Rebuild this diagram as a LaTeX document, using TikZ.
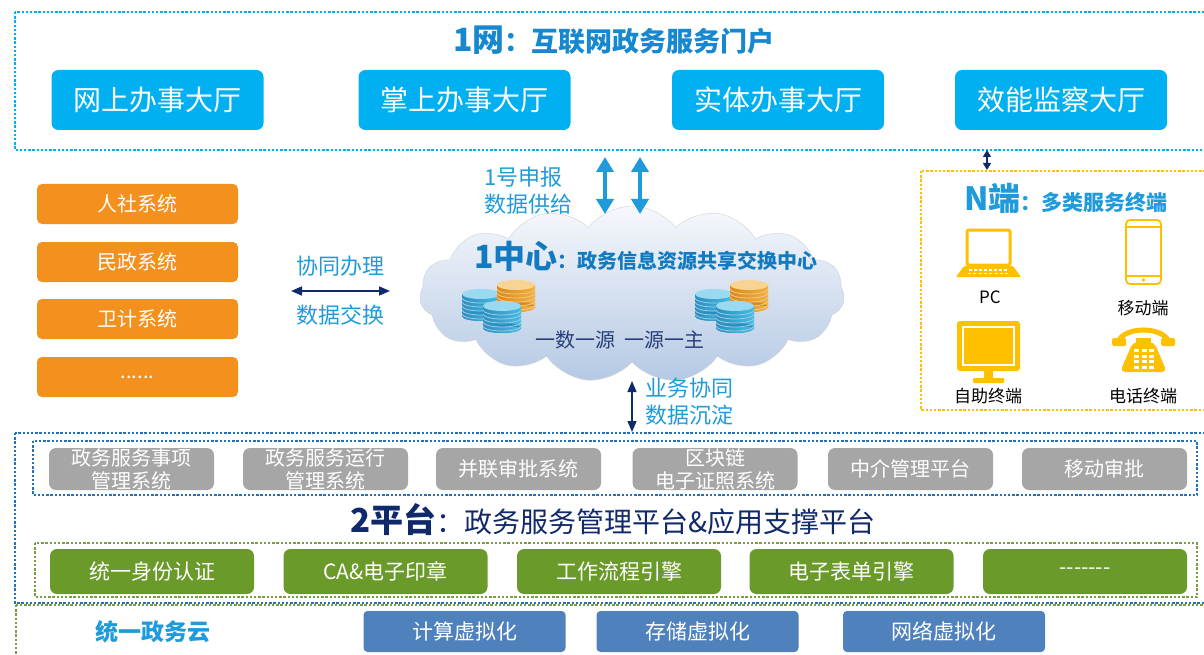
\documentclass[tikz,border=0pt]{standalone}
\usepackage{fontspec}
\setmainfont{Noto Sans CJK SC}
\usepackage{xcolor}
\usetikzlibrary{shapes.symbols, arrows.meta, positioning, calc}

\definecolor{netblue}{HTML}{00B0F0}
\definecolor{titleblue}{HTML}{1588CF}
\definecolor{lblblue}{HTML}{1F9BDB}
\definecolor{navy}{HTML}{10296A}
\definecolor{sysorange}{HTML}{F4901E}
\definecolor{appgray}{HTML}{A6A6A6}
\definecolor{supgreen}{HTML}{6A9A2A}
\definecolor{vmblue}{HTML}{4F81BD}
\definecolor{termyellow}{HTML}{FFC000}
\definecolor{platblue}{HTML}{2472B3}
\definecolor{dotgreen}{HTML}{7A9C3E}
\definecolor{cloudtop}{HTML}{F6F8FC}
\definecolor{cloudbot}{HTML}{B5C9E4}
\definecolor{dbblue}{HTML}{45BCE3}
\definecolor{dbdark}{HTML}{2C8FC0}
\definecolor{dborange}{HTML}{F3B03A}
\definecolor{dborangedk}{HTML}{D98A1C}

% one database cylinder: centre x, top y, body colour, shade colour
\newcommand{\dbcyl}[4]{%
  \shade[left color=#4, right color=#3] (#1-19,#2) rectangle (#1+19,#2+22);
  \fill[#4] (#1,#2+22) ellipse [x radius=19, y radius=5];
  \shade[left color=#4, right color=#3] (#1-19,#2+22) arc [start angle=180, end angle=0, x radius=19, y radius=5]
    -- (#1+19,#2+21) -- (#1-19,#2+21) -- cycle;
  \foreach \s in {4,8,12,16,20}
    \draw[white!55!#4, line width=0.8pt] (#1-19,#2+\s) arc [start angle=180, end angle=0, x radius=19, y radius=5];
  \fill[white!45!#3] (#1,#2) ellipse [x radius=19, y radius=5];
}

\begin{document}
\begin{tikzpicture}[
  x=1pt, y=-1pt,
  box/.style={rounded corners=7pt, text=white, inner sep=0pt},
  hall/.style={box, fill=netblue, minimum width=212pt, minimum height=60pt, font=\fontsize{28}{30}\selectfont},
  sysbox/.style={box, fill=sysorange, rounded corners=5pt, minimum width=201pt, minimum height=40pt, font=\fontsize{20}{22}\selectfont},
  app/.style={box, fill=appgray, minimum width=165pt, minimum height=42pt, align=center, font=\fontsize{20}{23}\selectfont},
  sup/.style={box, fill=supgreen, minimum width=204pt, minimum height=45pt, font=\fontsize{21}{23}\selectfont},
  vm/.style={box, fill=vmblue, rounded corners=4pt, minimum width=202pt, minimum height=41pt, font=\fontsize{21}{23}\selectfont},
  frame/.style={line width=2.4pt, dash pattern=on 2.4pt off 1.8pt},
  lbl/.style={text=lblblue, font=\fontsize{22}{27}\selectfont, inner sep=0pt},
  term/.style={font=\fontsize{17}{19}\selectfont, inner sep=0pt},
  navyarrow/.style={navy, line width=1.6pt, {Triangle[width=9pt,length=11pt]}-{Triangle[width=9pt,length=11pt]}},
  fatarrow/.style={lblblue, line width=4.5pt, {Triangle[width=17pt,length=15pt]}-{Triangle[width=17pt,length=15pt]}},
]
\useasboundingbox[fill=white] (0,0) rectangle (1204,655);

% 1 net: portal halls
\draw[frame, netblue] (15,12) rectangle (1215,150);
\node[text=titleblue, inner sep=0pt] (nettitle) at (614,40)
  {{\fontsize{32}{32}\selectfont\bfseries 1网}{\fontsize{27}{27}\selectfont\bfseries ：互联网政务服务门户}};
\node[hall] (hall1) at (157.5,100) {网上办事大厅};
\node[hall] (hall2) at (464.5,100) {掌上办事大厅};
\node[hall] (hall3) at (778,100) {实体办事大厅};
\node[hall] (hall4) at (1061,100) {效能监察大厅};

% departmental systems
\node[sysbox] (sys1) at (137.5,204) {人社系统};
\node[sysbox] (sys2) at (137.5,262) {民政系统};
\node[sysbox] (sys3) at (137.5,319) {卫计系统};
\node[sysbox] (sys4) at (137.5,377) {......};

\node[lbl] (coop) at (340,266) {协同办理};
\node[lbl] (swap) at (340,315) {数据交换};
\coordinate (swapL) at (291,291);
\coordinate (swapR) at (390,291);
\draw[navyarrow] (swapL) -- (swapR);

% 1 centre: exchange cloud
\node[cloud, cloud puffs=15, cloud puff arc=105, aspect=2.4, draw=gray!35,
      top color=cloudtop, bottom color=cloudbot,
      minimum width=425pt, minimum height=176pt] (hub) at (632,294) {};
\node[text=titleblue!85!navy, inner sep=0pt] (hubtitle) at (646,256)
  {{\fontsize{32}{32}\selectfont\bfseries 1中心}{\fontsize{20}{20}\selectfont\bfseries ：政务信息资源共享交换中心}};

\dbcyl{481}{294}{dbblue}{dbdark}
\dbcyl{516}{285}{dborange}{dborangedk}
\dbcyl{502}{306}{dbblue}{dbdark}
\dbcyl{714}{294}{dbblue}{dbdark}
\dbcyl{749}{285}{dborange}{dborangedk}
\dbcyl{735}{306}{dbblue}{dbdark}

\node[text=navy!90, font=\fontsize{20}{22}\selectfont, inner sep=0pt] (rule) at (620,340) {一数一源\ \ 一源一主};

\coordinate (upA) at (605,157);
\coordinate (dnA) at (605,214);
\coordinate (upB) at (640,157);
\coordinate (dnB) at (640,214);
\draw[fatarrow] (upA) -- (dnA);
\draw[fatarrow] (upB) -- (dnB);
\node[lbl, anchor=west, align=left] (supply) at (484,191) {1号申报\\数据供给};

\coordinate (sinkT) at (632,381);
\coordinate (sinkB) at (632,432);
\draw[navyarrow, line width=1.3pt] (sinkT) -- (sinkB);
\node[lbl, anchor=west, align=left] (settle) at (645,402) {业务协同\\数据沉淀};

% N terminals
\draw[frame, termyellow] (921,171) rectangle (1215,410);
\coordinate (termT) at (987,150);
\coordinate (termB) at (987,170);
\draw[navyarrow, line width=1.3pt, {Triangle[width=8pt,length=7pt]}-{Triangle[width=8pt,length=7pt]}] (termT) -- (termB);
\node[text=lblblue, inner sep=0pt] (termtitle) at (1066,198)
  {{\fontsize{32}{32}\selectfont\bfseries N端}{\fontsize{21}{21}\selectfont\bfseries ：多类服务终端}};

% laptop
\draw[termyellow, line width=3pt, rounded corners=2pt] (967,230) rectangle (1010,265);
\fill[termyellow, rounded corners=1pt] (964,266) -- (1013,266) -- (1021,277) -- (956,277) -- cycle;
\foreach \k in {0,...,7} \fill[white] (969+\k*5,269) rectangle ++(3,1.5);
\foreach \k in {0,...,7} \fill[white] (968+\k*5.3,272.5) rectangle ++(3,1.5);
\node[term] (pc) at (990,297) {PC};

% mobile phone
\draw[termyellow, line width=1.8pt, rounded corners=4pt] (1126,220) rectangle (1161,284);
\draw[termyellow, line width=1.2pt] (1126,227) -- (1161,227);
\draw[termyellow, line width=1.2pt] (1126,276) -- (1161,276);
\fill[termyellow] (1143.5,280) circle (1.8);
\node[term] (mobile) at (1143,308) {移动端};

% self-service kiosk
\fill[termyellow, rounded corners=3pt] (957,321) rectangle (1020,371);
\draw[white, line width=1.6pt] (963,327) rectangle (1014,365);
\fill[termyellow] (984,370) rectangle (993,379);
\fill[termyellow, rounded corners=1pt] (973,378) rectangle (1004,383);
\node[term] (kiosk) at (988,396) {自助终端};

% telephone
\draw[termyellow, line width=5pt] (1118,342) .. controls (1124,326) and (1163,326) .. (1169,342);
\fill[termyellow, rounded corners=1.5pt] (1112,338) rectangle (1126,346);
\fill[termyellow, rounded corners=1.5pt] (1161,338) rectangle (1175,346);
\fill[termyellow] (1136,338) rectangle (1151,346);
\fill[termyellow, rounded corners=5pt] (1133,342) -- (1154,342) -- (1167,372) -- (1120,372) -- cycle;
\foreach \i in {0,1,2}
  \foreach \j in {0,1,2,3}
    \fill[white] (1134+\i*7.5,349+\j*5.5) rectangle ++(5,3);
\node[term] (phone) at (1143,396) {电话终端};

% 2 platforms
\draw[frame, platblue] (15,433) rectangle (1215,603);
\draw[frame, platblue, line width=2pt] (33,441) rectangle (1197,495);
\node[app] (app1) at (131.5,469) {政务服务事项\\管理系统};
\node[app] (app2) at (325.5,469) {政务服务运行\\管理系统};
\node[app] (app3) at (518.5,469) {并联审批系统};
\node[app] (app4) at (715,469) {区块链\\电子证照系统};
\node[app] (app5) at (910.5,469) {中介管理平台};
\node[app] (app6) at (1104.5,469) {移动审批};

\node[text=navy, inner sep=0pt] (plattitle) at (613,520)
  {{\fontsize{33}{33}\selectfont\bfseries 2平台}{\fontsize{28}{28}\selectfont ：政务服务管理平台\&应用支撑平台}};

\draw[frame, dotgreen, line width=2pt] (35,543) rectangle (1197,597);
\node[sup] (sup1) at (152,571.5) {统一身份认证};
\node[sup] (sup2) at (385.5,571.5) {CA\&电子印章};
\node[sup] (sup3) at (619,571.5) {工作流程引擎};
\node[sup] (sup4) at (851.5,571.5) {电子表单引擎};
\node[sup] (sup5) at (1085,571.5) {-{}-{}-{}-{}-{}-{}-};

% unified cloud
\draw[frame, dotgreen, line width=2pt] (16,605) rectangle (1215,665);
\node[text=lblblue, font=\fontsize{23}{25}\selectfont\bfseries, inner sep=0pt] (govcloud) at (153,632) {统一政务云};
\node[vm] (vm1) at (464.5,631.5) {计算虚拟化};
\node[vm] (vm2) at (697.5,631.5) {存储虚拟化};
\node[vm] (vm3) at (944,631.5) {网络虚拟化};
\end{tikzpicture}
\end{document}
